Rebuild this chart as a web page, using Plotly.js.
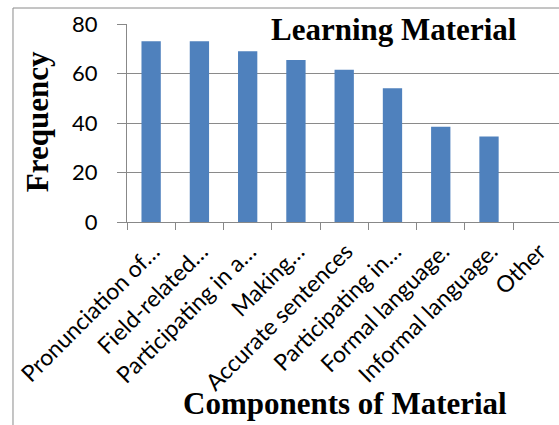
<!DOCTYPE html>
<html>
<head>
<meta charset="utf-8">
<script src="https://cdn.plot.ly/plotly-3.0.1.min.js"></script>
<style>html,body{margin:0;padding:0;background:#fff;}#chart{width:559px;height:425px;}</style>
</head>
<body>
<div id="chart"></div>
<script>
var categories = ["Pronunciation of…", "Field-related…", "Participating in a…", "Making…", "Accurate sentences", "Participating in…", "Formal language.", "Informal language.", "Other"];
var frequency = [73, 73, 69, 65.5, 61.5, 54, 38.5, 34.5, 0];
var yTicks = [0, 20, 40, 60, 80];
var chartTitle = "Learning Material";
var xTitle = "Components of Material";
var yTitle = "Frequency";

var trace = {
  type: "bar",
  x: categories,
  y: frequency,
  marker: {color: "#4F81BD", line: {width: 0}},
  hoverinfo: "x+y"
};

var titleFont = {family: "Liberation Serif, Times New Roman, serif", size: 31, color: "#000"};

var layout = {
  width: 559,
  height: 425,
  margin: {l: 127, r: 0, t: 24, b: 203, pad: 0},
  paper_bgcolor: "#fff",
  plot_bgcolor: "#fff",
  showlegend: false,
  bargap: 0.6,
  xaxis: {
    type: "category",
    range: [-0.5, 8.45],
    tickangle: -45,
    ticks: "outside",
    tickson: "boundaries",
    ticklen: 7,
    tickcolor: "#888",
    ticklabelshift: 2,
    ticklabelstandoff: 6,
    showline: true,
    linecolor: "#888",
    linewidth: 1,
    showgrid: false,
    tickfont: {family: "Lato, Open Sans, sans-serif", size: 23, color: "#000"},
    automargin: false
  },
  yaxis: {
    range: [0, 80],
    tickvals: yTicks,
    ticktext: yTicks.map(String),
    ticks: "outside",
    ticklen: 9,
    tickcolor: "#888",
    ticklabelstandoff: 15,
    showline: true,
    linecolor: "#888",
    linewidth: 1,
    showgrid: true,
    gridcolor: "#8a8a8a",
    gridwidth: 1,
    zeroline: false,
    tickfont: {family: "Lato, Open Sans, sans-serif", size: 22, color: "#000"},
    automargin: false
  },
  annotations: [
    {text: "<b>" + chartTitle + "</b>", xref: "paper", yref: "paper", x: 0.618, y: 0.97, xanchor: "center", yanchor: "middle", showarrow: false, font: titleFont},
    {text: "<b>" + yTitle + "</b>", xref: "paper", yref: "paper", x: -0.208, y: 0.505, xanchor: "center", yanchor: "middle", textangle: -90, showarrow: false, font: titleFont},
    {text: "<b>" + xTitle + "</b>", xref: "paper", yref: "paper", x: 0.505, y: -0.919, xanchor: "center", yanchor: "middle", showarrow: false, font: titleFont}
  ],
  shapes: [
    {type: "line", xref: "paper", yref: "paper", x0: -0.2639, x1: -0.2639, y0: -1.05, y1: 1.0808, line: {color: "#8a8a8a", width: 1}},
    {type: "line", xref: "paper", yref: "paper", x0: -0.2639, x1: 1.05, y0: 1.0808, y1: 1.0808, line: {color: "#8a8a8a", width: 1}}
  ]
};

Plotly.newPlot("chart", [trace], layout, {displayModeBar: false, staticPlot: true});
</script>
</body>
</html>
